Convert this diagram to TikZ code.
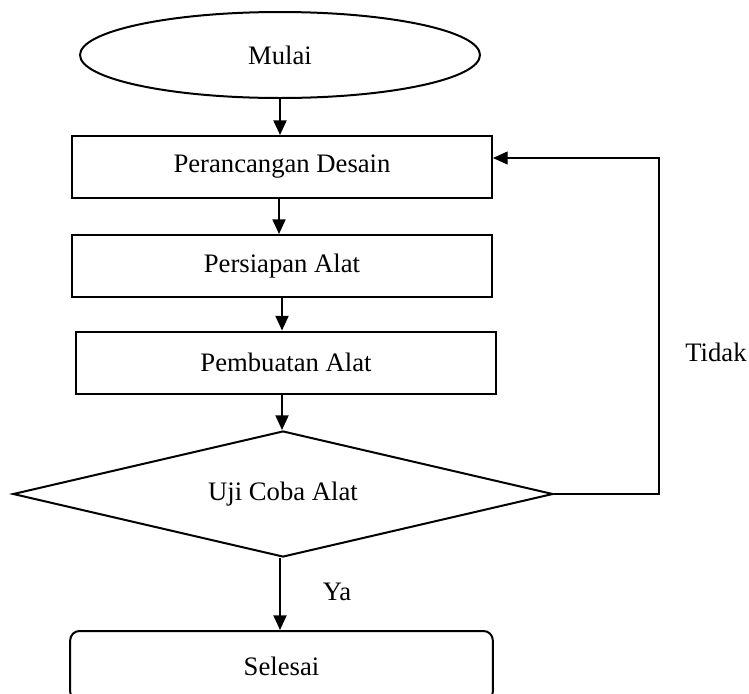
\documentclass[tikz,border=0pt]{standalone}
\usepackage{fontspec}
\setmainfont{Liberation Serif}
\usetikzlibrary{shapes.geometric,arrows.meta}
\begin{document}
\begin{tikzpicture}[x=0.75pt,y=-0.75pt,
  font=\fontsize{20}{24}\selectfont,
  box/.style={draw,line width=1.5pt,minimum width=315pt,minimum height=46.5pt,inner sep=0pt},
  startnode/.style={draw,ellipse,line width=1.5pt,minimum width=300pt,minimum height=64.5pt,inner sep=0pt},
  decision/.style={draw,diamond,line width=1.5pt,minimum width=405pt,minimum height=94.5pt,aspect=4.29,inner sep=0pt},
  endnode/.style={draw,rectangle,rounded corners=7pt,line width=1.5pt,minimum width=317pt,minimum height=52.5pt,inner sep=0pt},
  arr/.style={line width=1.5pt,-{Triangle[width=9.75pt,length=11pt]}},
  fbarr/.style={line width=0.8pt,-{Triangle[width=9.75pt,length=11pt]}},
  lbl/.style={inner sep=0pt}]
\useasboundingbox (0,0) rectangle (749,693);
\node[startnode] (mulai) at (280,55) {Mulai};
\node[box] (desain) at (282,167) {Perancangan Desain};
\node[box] (persiapan) at (282,266) {Persiapan Alat};
\node[box] (pembuatan) at (286,362.5) {Pembuatan Alat};
\node[decision] (uji) at (283,494) {Uji Coba Alat};
\node[endnode] (selesai) at (281.5,666) {Selesai};
\node[lbl] (ya) at (337,592) {Ya};
\node[lbl] (tidak) at (716,352) {Tidak};
\coordinate (fb) at (659,158);
\draw[arr] (mulai.south) -- (mulai.south |- desain.north);
\draw[arr] ([xshift=-2.25pt]desain.south) -- ([xshift=-2.25pt]desain.south |- persiapan.north);
\draw[arr] (persiapan.south) -- (persiapan.south |- pembuatan.north);
\draw[arr] (pembuatan.south -| persiapan.south) -- (persiapan.south |- uji.north);
\draw[arr] (uji.south -| mulai.south) -- (selesai.north -| mulai.south);
\draw[fbarr] (uji.east) -| (fb) -- (fb -| desain.east);
\end{tikzpicture}
\end{document}
